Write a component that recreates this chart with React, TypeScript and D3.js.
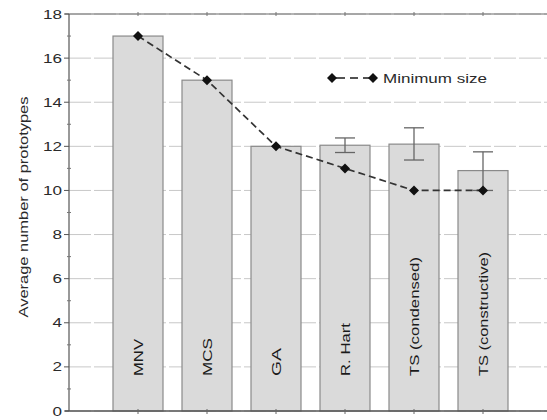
import React from "react";
import * as d3 from "d3";

const categories = ["MNV", "MCS", "GA", "R. Hart", "TS (condensed)", "TS (constructive)"];
const avgValues = [17, 15, 12, 12.05, 12.1, 10.9];
const errLow: (number | null)[] = [null, null, null, 11.72, 11.38, 10.0];
const errHigh: (number | null)[] = [null, null, null, 12.38, 12.84, 11.75];
const minSize = [17, 15, 12, 11, 10, 10];
const yTicks = [0, 2, 4, 6, 8, 10, 12, 14, 16, 18];
const yMinorTicks = [1, 3, 5, 7, 9, 11, 13, 15, 17];
const labelLengths = [37, 38, 28, 53, 119, 124];

const W = 547;
const H = 420;
const FONT = "'Liberation Sans', Arial, sans-serif";

export default function App() {
  const x = d3.scaleLinear().domain([0, 7]).range([69, 69 + 7 * 69]);
  const y = d3.scaleLinear().domain([0, 18]).range([411, 14]);
  const barW = 50;
  const capW = 20;

  const line = d3
    .line<number>()
    .x((_, i) => x(i + 1))
    .y((d) => y(d));

  const diamond = (cx: number, cy: number, r = 5) =>
    `M${cx},${cy - r}L${cx + r},${cy}L${cx},${cy + r}L${cx - r},${cy}Z`;

  return (
    <svg
      width={W}
      height={H}
      style={{ position: "absolute", left: 0, top: 0, background: "#fff" }}
      fontFamily={FONT}
    >
      {/* gridlines */}
      {yTicks.map((t) => (
        <line
          key={"g" + t}
          x1={x(0)}
          x2={W}
          y1={y(t)}
          y2={y(t)}
          stroke="#c8c8c8"
          strokeWidth={1}
          strokeDasharray="22 3"
        />
      ))}
      {/* top border */}
      <line x1={x(0) - 4} x2={W} y1={y(18)} y2={y(18)} stroke="#6a6a6a" strokeWidth={1.2} />
      {categories.map((_, i) => (
        <line key={"tt" + i} x1={x(i + 1)} x2={x(i + 1)} y1={y(18) - 2} y2={y(18) + 2} stroke="#777" />
      ))}

      {/* bars */}
      {avgValues.map((v, i) => (
        <rect
          key={"b" + i}
          x={x(i + 1) - barW / 2}
          y={y(v)}
          width={barW}
          height={y(0) - y(v)}
          fill="#dadada"
          stroke="#8a8a8a"
          strokeWidth={1.2}
        />
      ))}

      {/* error bars */}
      {avgValues.map((_, i) => {
        const lo = errLow[i];
        const hi = errHigh[i];
        if (lo == null || hi == null) return null;
        const cx = x(i + 1);
        return (
          <g key={"e" + i} stroke="#666" strokeWidth={1.3}>
            <line x1={cx} x2={cx} y1={y(hi)} y2={y(lo)} />
            <line x1={cx - capW / 2} x2={cx + capW / 2} y1={y(hi)} y2={y(hi)} />
            <line x1={cx - capW / 2} x2={cx + capW / 2} y1={y(lo)} y2={y(lo)} />
          </g>
        );
      })}

      {/* category labels inside bars */}
      {categories.map((c, i) => {
        const cx = x(i + 1) + 4.5;
        const by = 376;
        return (
          <text
            key={"c" + i}
            transform={`translate(${cx},${by}) rotate(-90)`}
            fontSize={12}
            fill="#1a1a1a"
            textLength={labelLengths[i]}
            lengthAdjust="spacingAndGlyphs"
          >
            {c}
          </text>
        );
      })}

      {/* minimum size line */}
      <path d={line(minSize) || ""} fill="none" stroke="#333" strokeWidth={1.7} strokeDasharray="7 4" />
      {minSize.map((v, i) => (
        <path key={"m" + i} d={diamond(x(i + 1), y(v))} fill="#111" />
      ))}

      {/* legend */}
      <line x1={332} x2={345} y1={78} y2={78} stroke="#333" strokeWidth={1.7} />
      <line x1={350} x2={358} y1={78} y2={78} stroke="#333" strokeWidth={1.7} />
      <line x1={363} x2={373} y1={78} y2={78} stroke="#333" strokeWidth={1.7} />
      <path d={diamond(332, 78)} fill="#111" />
      <path d={diamond(373, 78)} fill="#111" />
      <text x={383} y={82.5} fontSize={13} fill="#2a2a2a" textLength={104} lengthAdjust="spacingAndGlyphs">
        Minimum size
      </text>

      {/* y axis */}
      <line x1={x(0)} x2={x(0)} y1={y(18)} y2={y(0)} stroke="#555" strokeWidth={1.2} />
      {yTicks.map((t) => (
        <g key={"yt" + t}>
          <line x1={x(0) - 5} x2={x(0)} y1={y(t)} y2={y(t)} stroke="#555" />
          <text
            x={x(0) - 7}
            y={y(t) + 4.5}
            textAnchor="end"
            fontSize={13}
            fill="#2a2a2a"
            textLength={String(t).length * 9.5}
            lengthAdjust="spacingAndGlyphs"
          >
            {t}
          </text>
        </g>
      ))}
      {yMinorTicks.map((t) => (
        <line key={"ym" + t} x1={x(0) - 2} x2={x(0) + 2} y1={y(t)} y2={y(t)} stroke="#777" />
      ))}

      {/* x axis */}
      <line x1={x(0) - 4} x2={W} y1={y(0)} y2={y(0)} stroke="#555" strokeWidth={1.4} />
      {categories.map((_, i) => (
        <line key={"xt" + i} x1={x(i + 1)} x2={x(i + 1)} y1={y(0) - 2} y2={y(0) + 3} stroke="#666" />
      ))}

      {/* y label */}
      <text
        transform={`translate(28,207) rotate(-90)`}
        textAnchor="middle"
        fontSize={12.5}
        fill="#2a2a2a"
        textLength={221}
        lengthAdjust="spacingAndGlyphs"
      >
        Average number of prototypes
      </text>
    </svg>
  );
}
